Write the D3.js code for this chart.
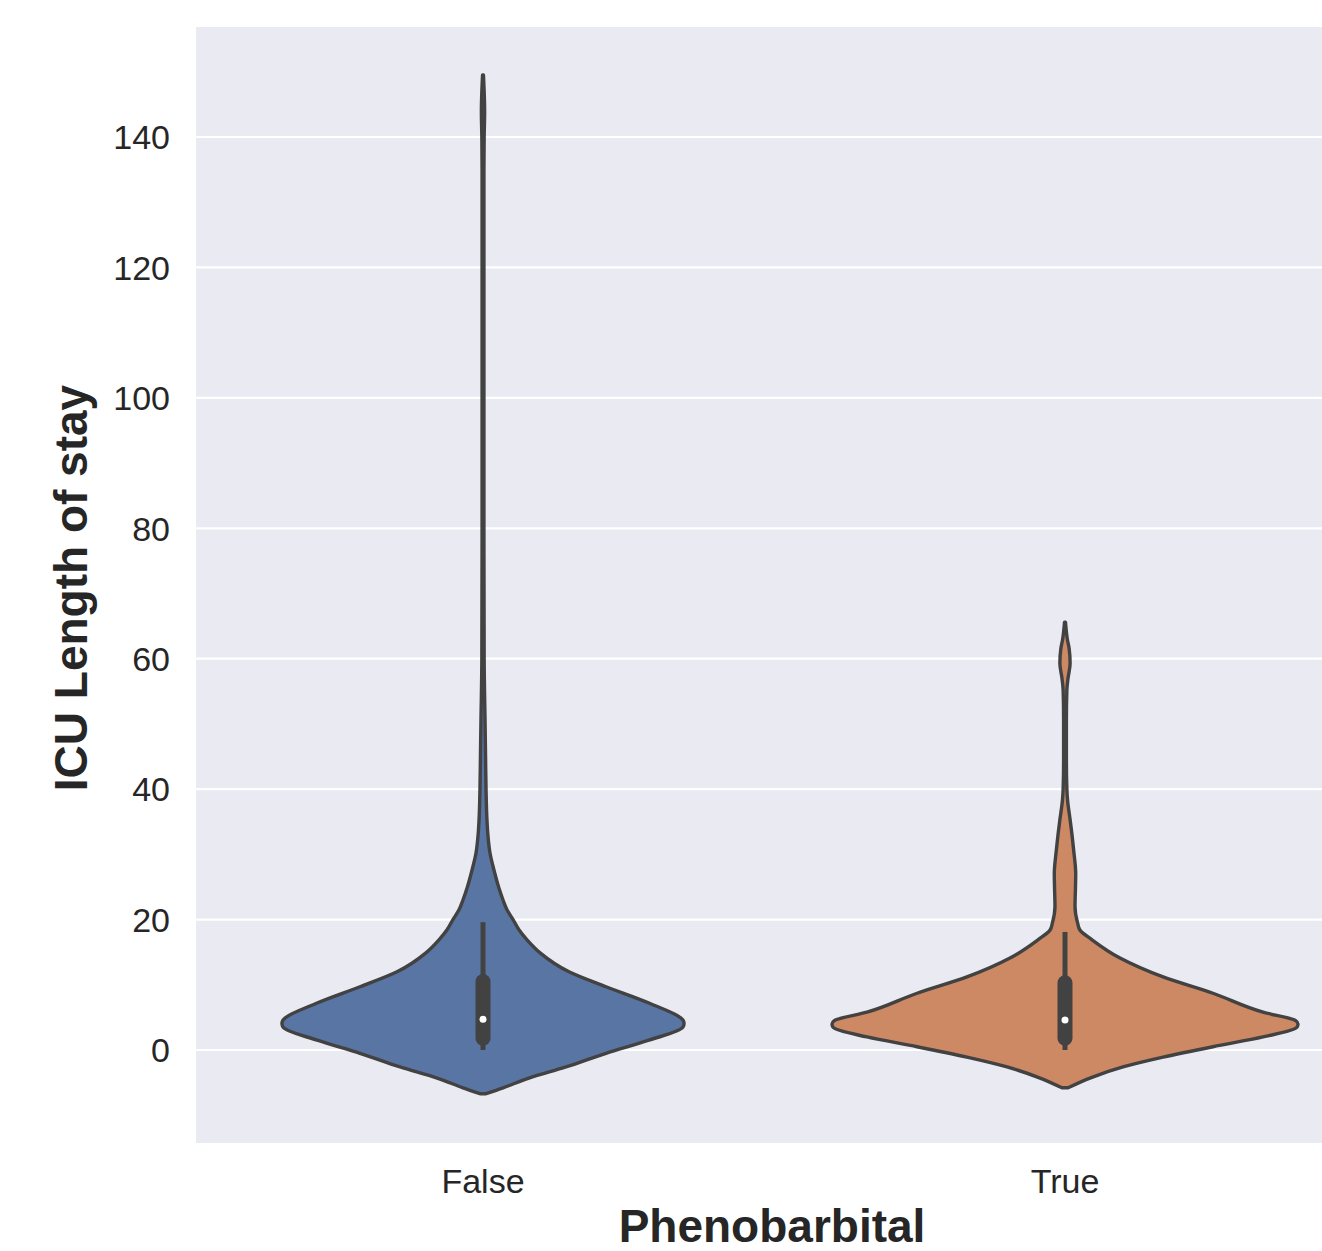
<!DOCTYPE html>
<html>
<head>
<meta charset="utf-8">
<script src="https://cdn.jsdelivr.net/npm/d3@7"></script>
<style>
  body { margin: 0; background: #fff; }
  text { font-family: "Liberation Sans", Arial, sans-serif; fill: #262626; }
</style>
</head>
<body>
<div id="chart"></div>
<script>
// categories and tick labels
var categories = ["False", "True"];
var yTicks = [0, 20, 40, 60, 80, 100, 120, 140];

// density profiles: [value, relative density]
var densityFalse = [
    [-6.7, 0.013], [-5.8, 0.086], [-4.3, 0.197], [-2.6, 0.356], [-0.5, 0.528],
    [1.5, 0.712], [3.5, 0.858], [4.1, 0.863], [4.6, 0.858], [7.2, 0.712],
    [9.7, 0.528], [12.0, 0.369], [14.9, 0.245], [16.9, 0.189], [18.4, 0.155],
    [20.0, 0.129], [21.5, 0.103], [23.0, 0.086], [25.0, 0.067], [27.6, 0.047],
    [30.2, 0.030], [33.0, 0.021], [35.3, 0.017], [40.0, 0.013], [45.0, 0.011],
    [50.0, 0.009], [60.0, 0.005], [80.0, 0.004], [100, 0.004], [120, 0.004],
    [135, 0.004], [140, 0.005], [144, 0.007], [147, 0.005], [149.5, 0.002]
];
var densityTrue = [
    [-5.8, 0.013], [-4.3, 0.107], [-2.6, 0.249], [-1.1, 0.421], [0.5, 0.635],
    [2.0, 0.850], [3.5, 0.996], [4.0, 1.0], [4.5, 0.99], [5.8, 0.850],
    [8.7, 0.635], [11.2, 0.421], [14.1, 0.236], [16.9, 0.116], [18.4, 0.064],
    [19.5, 0.054], [22.0, 0.043], [25.0, 0.045], [27.0, 0.046], [30.7, 0.037],
    [33.0, 0.030], [35.3, 0.022], [38.3, 0.011], [40.0, 0.008], [44.5, 0.006],
    [50.6, 0.006], [55.2, 0.008], [57.0, 0.013], [59.3, 0.022], [61.5, 0.018],
    [63.0, 0.010], [65.6, 0.002]
];

// box stats: [whiskerLow, q1, median, q3, whiskerHigh]
var boxFalse = [0, 1.8, 4.7, 10.5, 19.6];
var boxTrue = [0, 1.8, 4.6, 10.3, 18.1];

var colors = ["#5875a4", "#cc8963"];

var width = 1322, height = 1251;
var plotLeft = 196, plotTop = 27, plotBottom = 1143;

var svg = d3.select("#chart").append("svg")
    .attr("width", width)
    .attr("height", height);

var y = d3.scaleLinear().domain([0, 140]).range([1050, 137]);
var x = d3.scaleLinear().domain([0, 1]).range([483, 1065]);
var w = d3.scaleLinear().domain([0, 1]).range([0, 233]);

//background
svg.append("rect")
    .attr("x", plotLeft)
    .attr("y", plotTop)
    .attr("width", width - plotLeft)
    .attr("height", plotBottom - plotTop)
    .style("fill", "#eaeaf2");

//grid lines
svg.selectAll(".grid")
    .data(yTicks)
    .enter()
    .append("line")
    .attr("x1", plotLeft)
    .attr("x2", width)
    .attr("y1", function (d) { return y(d); })
    .attr("y2", function (d) { return y(d); })
    .style("stroke", "#fff")
    .style("stroke-width", 2.2);

//y tick labels
svg.selectAll(".ytick")
    .data(yTicks)
    .enter()
    .append("text")
    .attr("x", 170)
    .attr("y", function (d) { return y(d); })
    .attr("dy", "0.36em")
    .attr("text-anchor", "end")
    .style("font-size", "34px")
    .text(function (d) { return d; });

//x tick labels
svg.selectAll(".xtick")
    .data(categories)
    .enter()
    .append("text")
    .attr("x", function (d, i) { return x(i); })
    .attr("y", 1193)
    .attr("text-anchor", "middle")
    .style("font-size", "34px")
    .text(function (d) { return d; });

//axis titles
svg.append("text")
    .attr("x", 772)
    .attr("y", 1242)
    .attr("text-anchor", "middle")
    .style("font-size", "46px")
    .style("font-weight", "bold")
    .text("Phenobarbital");

svg.append("text")
    .attr("transform", "translate(87," + 588 + ") rotate(-90)")
    .attr("text-anchor", "middle")
    .style("font-size", "46px")
    .style("font-weight", "bold")
    .text("ICU Length of stay");

//violins
var densities = [densityFalse, densityTrue];
var boxes = [boxFalse, boxTrue];

densities.forEach(function (dens, i) {
    var cx = x(i);
    var area = d3.area()
        .curve(d3.curveMonotoneY)
        .y(function (d) { return y(d[0]); })
        .x0(function (d) { return cx - w(d[1]); })
        .x1(function (d) { return cx + w(d[1]); });

    svg.append("path")
        .datum(dens)
        .attr("d", area)
        .style("fill", colors[i])
        .style("stroke", "#424242")
        .style("stroke-width", 3.4)
        .style("stroke-linejoin", "round");

    var b = boxes[i];
    //whisker
    svg.append("line")
        .attr("x1", cx).attr("x2", cx)
        .attr("y1", y(b[0])).attr("y2", y(b[4]))
        .style("stroke", "#424242")
        .style("stroke-width", 5);
    //box
    svg.append("line")
        .attr("x1", cx).attr("x2", cx)
        .attr("y1", y(b[1])).attr("y2", y(b[3]))
        .style("stroke", "#424242")
        .style("stroke-width", 15)
        .style("stroke-linecap", "round");
    //median
    svg.append("circle")
        .attr("cx", cx)
        .attr("cy", y(b[2]))
        .attr("r", 3.5)
        .style("fill", "#fff");
});
</script>
</body>
</html>
